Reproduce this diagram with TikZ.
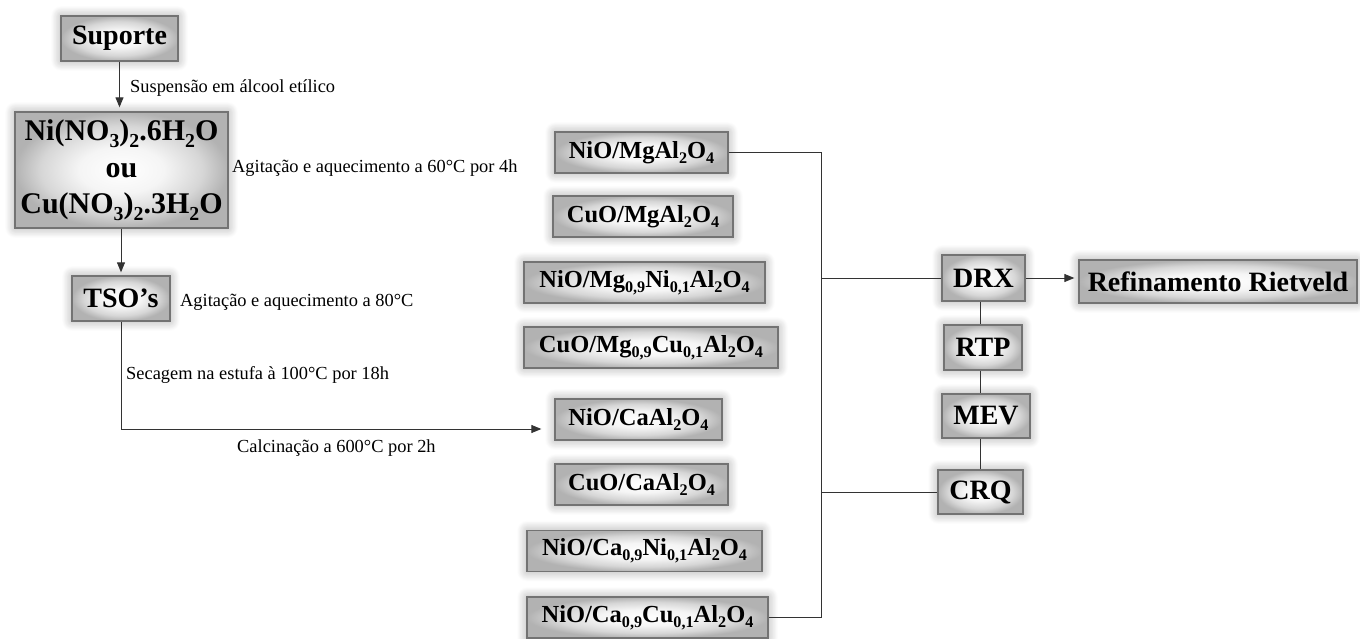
\documentclass[tikz,border=0pt]{standalone}
\usepackage{fontspec}
\setmainfont{Liberation Serif}
\usepackage{graphicx}
\usetikzlibrary{arrows.meta,shadows.blur}
% chemical subscript: smaller and lowered
\newcommand\dn[1]{\raisebox{-0.22em}{\scalebox{0.66}{#1}}}
% light centre fading to grey at the border
\pgfdeclareradialshading{boxglow}{\pgfpoint{0bp}{0bp}}{%
  color(0bp)=(white); color(10bp)=(white!96!black); color(19bp)=(white!84!black);
  color(25bp)=(white!70!black); color(50bp)=(white!70!black)}

\begin{document}
\begin{tikzpicture}[x=1pt,y=-1pt,
  box/.style={draw=black!55, line width=1.3pt, shading=boxglow,
    blur shadow={shadow xshift=0pt, shadow yshift=0pt, shadow blur radius=10pt,
      shadow opacity=36, shadow blur steps=14},
    inner sep=0pt, align=center, text=black, font=\bfseries},
  big/.style={box, font=\bfseries\fontsize{28}{32}\selectfont},
  mid/.style={box, minimum height=41pt, font=\bfseries\fontsize{24.5}{28}\selectfont},
  note/.style={anchor=west, inner sep=0pt, text=black, font=\fontsize{18.4}{22}\selectfont},
  conn/.style={draw=black!80, line width=1pt},
  arr/.style={conn, -{Triangle[length=10pt,width=8pt]}},
]
\useasboundingbox (0,0) rectangle (1360,639);

% preparation steps
\node[big, minimum width=117pt, minimum height=45pt] (sup) at (119.5,38.5) {Suporte};
\node[box, minimum width=213pt, minimum height=116pt, font=\bfseries\fontsize{30}{36.5}\selectfont] (nit) at (121.5,170)
  {Ni(NO\dn{3})\dn{2}.6H\dn{2}O\\ou\\Cu(NO\dn{3})\dn{2}.3H\dn{2}O};
\node[big, minimum width=98pt, minimum height=45pt] (tso) at (121,298.5) {TSO’s};

% catalysts
\node[mid, minimum width=173pt] (m1) at (641.5,152.5) {NiO/MgAl\dn{2}O\dn{4}};
\node[mid, minimum width=180pt] (m2) at (643,216.5) {CuO/MgAl\dn{2}O\dn{4}};
\node[mid, minimum width=241pt] (m3) at (644.5,282.5) {NiO/Mg\dn{0,9}Ni\dn{0,1}Al\dn{2}O\dn{4}};
\node[mid, minimum width=254pt] (m4) at (651,347.5) {CuO/Mg\dn{0,9}Cu\dn{0,1}Al\dn{2}O\dn{4}};
\node[mid, minimum width=167pt] (c1) at (638.5,419.5) {NiO/CaAl\dn{2}O\dn{4}};
\node[mid, minimum width=173pt] (c2) at (641.5,484.5) {CuO/CaAl\dn{2}O\dn{4}};
\node[mid, minimum width=235pt] (c3) at (644.5,551) {NiO/Ca\dn{0,9}Ni\dn{0,1}Al\dn{2}O\dn{4}};
\node[mid, minimum width=241pt] (c4) at (647.5,617.5) {NiO/Ca\dn{0,9}Cu\dn{0,1}Al\dn{2}O\dn{4}};

% characterisation
\node[big, minimum width=83pt, minimum height=46pt] (drx) at (983.5,278) {DRX};
\node[big, minimum width=78pt, minimum height=45pt] (rtp) at (983,347.5) {RTP};
\node[big, minimum width=88pt, minimum height=44pt] (mev) at (986,416) {MEV};
\node[big, minimum width=85pt, minimum height=44pt] (crq) at (980.5,492) {CRQ};
\node[big, minimum width=278pt, minimum height=43pt] (ref) at (1218,281.5) {Refinamento Rietveld};

% step labels
\node[note] (l1) at (130,88) {Suspensão em álcool etílico};
\node[note] (l2) at (232,168) {Agitação e aquecimento a 60°C por 4h};
\node[note] (l3) at (180,302) {Agitação e aquecimento a 80°C};
\node[note] (l4) at (126,375) {Secagem na estufa à 100°C por 18h};
\node[note] (l5) at (237,448) {Calcinação a 600°C por 2h};

% connectors
\draw[arr, shorten >=4pt] (sup.south) -- (sup.south |- nit.north);
\draw[arr, shorten >=3pt] (nit.south -| tso.north) -- (tso.north);
\draw[arr] (tso.south) |- ([xshift=-13pt,yshift=-9.5pt]c1.west);

\coordinate (bus) at (821,152);
\draw[conn] (m1.east) -- (m1.east -| bus) -- (bus |- c4.east) -- (c4.east);
\draw[conn] (bus |- drx.west) -- (drx.west);
\draw[conn] (bus |- crq.west) -- (crq.west);

\draw[arr, shorten >=4pt] (drx.east) -- (drx.east -| ref.west);
\draw[conn] (drx.south -| crq.north) -- (rtp.north -| crq.north);
\draw[conn] (rtp.south -| crq.north) -- (mev.north -| crq.north);
\draw[conn] (mev.south -| crq.north) -- (crq.north);
\end{tikzpicture}
\end{document}
